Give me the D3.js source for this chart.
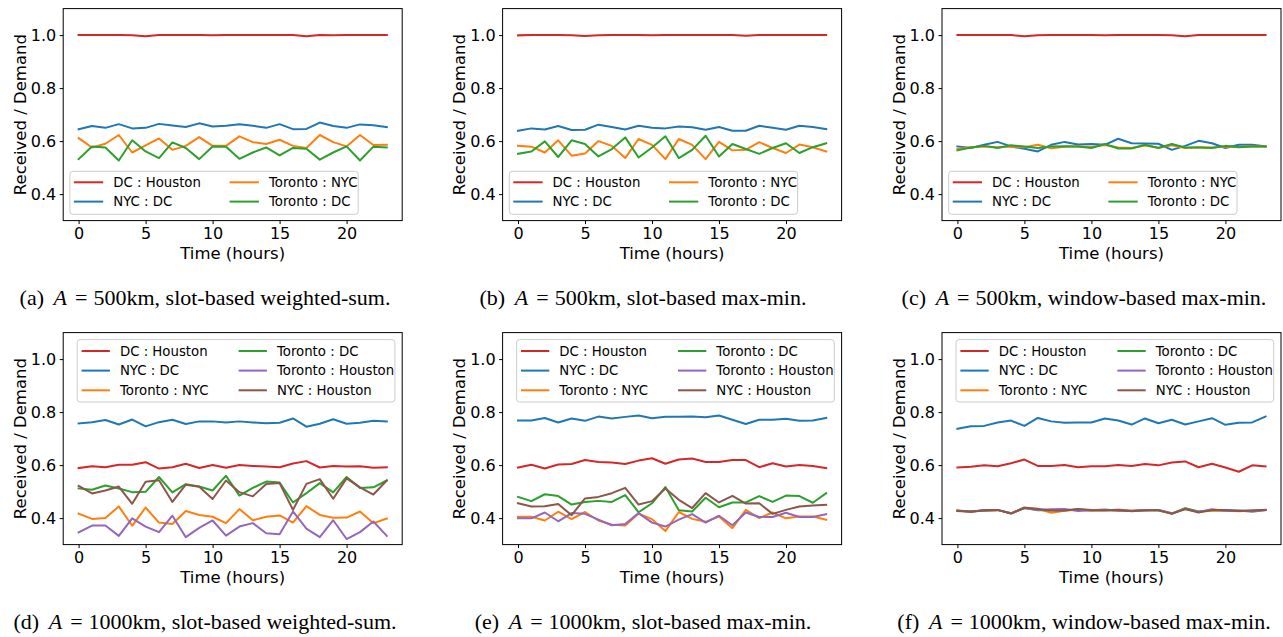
<!DOCTYPE html>
<html><head><meta charset="utf-8">
<script src="https://cdn.jsdelivr.net/npm/d3@7"></script>
<style>body{margin:0;background:#fff}</style>
</head><body>
<svg id="chart" width="1283" height="637"></svg>
<script>
// ---------- data ----------
const hours = [0,1,2,3,4,5,6,7,8,9,10,11,12,13,14,15,16,17,18,19,20,21,22,23];
const xTicks = [0,5,10,15,20];
const yTicks = [0.4,0.6,0.8,1.0];
const seriesNames = ["DC : Houston","NYC : DC","Toronto : NYC","Toronto : DC","Toronto : Houston","NYC : Houston"];
const seriesColors = ["#d62728","#1f77b4","#ff7f0e","#2ca02c","#9467bd","#8c564b"];
const captionLabels = ["(a)","(b)","(c)","(d)","(e)","(f)"];
const captionRadius = ["500km","500km","500km","1000km","1000km","1000km"];
const captionMethods = ["slot-based weighted-sum.","slot-based max-min.","window-based max-min.","slot-based weighted-sum.","slot-based max-min.","window-based max-min."];

// (a) A=500km slot-based weighted-sum
const a_dcHouston = [1,1,1,1,0.999,0.996,1,1,1,1,0.999,1,1,1,1,1,1,0.996,1,0.999,1,1,1,1];
const a_nycDc = [0.645,0.657,0.650,0.664,0.648,0.650,0.665,0.659,0.653,0.667,0.655,0.658,0.664,0.658,0.650,0.664,0.645,0.646,0.670,0.657,0.650,0.663,0.660,0.653];
const a_torNyc = [0.611,0.576,0.590,0.623,0.557,0.584,0.610,0.567,0.582,0.615,0.582,0.582,0.618,0.596,0.589,0.605,0.582,0.574,0.623,0.596,0.580,0.623,0.585,0.586];
const a_torDc = [0.532,0.580,0.576,0.527,0.603,0.561,0.536,0.595,0.574,0.532,0.580,0.579,0.533,0.557,0.576,0.546,0.574,0.571,0.530,0.557,0.580,0.527,0.579,0.576];

// (b) A=500km slot-based max-min
const b_dcHouston = [0.999,1,1,1,0.999,0.997,0.999,1,1,1,0.999,1,1,1,1,1,1,0.998,1,1,1,1,1,1];
const b_nycDc = [0.639,0.648,0.644,0.657,0.642,0.643,0.662,0.653,0.644,0.658,0.650,0.648,0.655,0.652,0.643,0.653,0.639,0.639,0.658,0.650,0.643,0.658,0.653,0.645];
const b_torNyc = [0.582,0.579,0.557,0.603,0.545,0.553,0.600,0.582,0.536,0.608,0.586,0.532,0.608,0.586,0.532,0.597,0.565,0.567,0.596,0.574,0.555,0.587,0.577,0.561];
const b_torDc = [0.552,0.561,0.599,0.540,0.603,0.589,0.542,0.570,0.614,0.538,0.576,0.618,0.536,0.567,0.620,0.542,0.589,0.570,0.552,0.574,0.592,0.555,0.577,0.592];

// (c) A=500km window-based max-min
const c_dcHouston = [1,1,1,1,1,0.996,0.999,1,1,1,1,0.999,1,1,1,1,0.999,0.996,1,1,1,1,1,1];
const c_nycDc = [0.580,0.574,0.586,0.597,0.580,0.571,0.561,0.586,0.597,0.587,0.589,0.586,0.609,0.592,0.591,0.590,0.567,0.582,0.601,0.592,0.574,0.586,0.586,0.580];
const c_torNyc = [0.570,0.577,0.580,0.577,0.580,0.577,0.586,0.573,0.579,0.581,0.578,0.585,0.576,0.574,0.583,0.575,0.584,0.574,0.577,0.576,0.580,0.578,0.581,0.579];
const c_torDc = [0.565,0.576,0.582,0.574,0.584,0.580,0.574,0.580,0.581,0.580,0.574,0.589,0.572,0.572,0.586,0.574,0.589,0.576,0.576,0.574,0.582,0.577,0.580,0.580];

// (d) A=1000km slot-based weighted-sum
const d_dcHouston = [0.589,0.596,0.592,0.601,0.601,0.611,0.587,0.592,0.605,0.589,0.600,0.590,0.600,0.597,0.595,0.592,0.606,0.615,0.591,0.597,0.595,0.596,0.590,0.592];
const d_nycDc = [0.757,0.762,0.770,0.753,0.772,0.746,0.762,0.771,0.755,0.765,0.765,0.761,0.765,0.761,0.758,0.760,0.776,0.745,0.756,0.773,0.756,0.760,0.767,0.765];
const d_torNyc = [0.417,0.397,0.400,0.444,0.371,0.440,0.383,0.378,0.427,0.412,0.405,0.381,0.434,0.392,0.405,0.410,0.383,0.445,0.412,0.401,0.402,0.425,0.381,0.398];
const d_torDc = [0.512,0.507,0.523,0.512,0.498,0.499,0.555,0.497,0.528,0.519,0.504,0.560,0.485,0.514,0.538,0.534,0.459,0.494,0.532,0.497,0.555,0.514,0.516,0.542];
const d_torHouston = [0.346,0.372,0.372,0.333,0.399,0.368,0.347,0.409,0.328,0.363,0.391,0.334,0.368,0.381,0.343,0.339,0.425,0.360,0.328,0.392,0.321,0.347,0.387,0.333];
const d_nycHouston = [0.522,0.493,0.504,0.519,0.454,0.537,0.543,0.461,0.526,0.518,0.472,0.542,0.498,0.482,0.529,0.532,0.431,0.529,0.547,0.473,0.550,0.516,0.489,0.542];

// (e) A=1000km slot-based max-min
const e_dcHouston = [0.591,0.601,0.587,0.602,0.604,0.619,0.612,0.610,0.604,0.617,0.626,0.605,0.621,0.625,0.612,0.612,0.619,0.619,0.592,0.607,0.595,0.600,0.597,0.589];
const e_nycDc = [0.768,0.768,0.778,0.761,0.776,0.767,0.783,0.776,0.782,0.787,0.777,0.782,0.782,0.783,0.781,0.787,0.771,0.755,0.771,0.771,0.775,0.767,0.768,0.778];
const e_torNyc = [0.405,0.405,0.391,0.424,0.396,0.423,0.391,0.375,0.372,0.417,0.396,0.351,0.423,0.397,0.386,0.406,0.362,0.431,0.400,0.421,0.399,0.406,0.406,0.394];
const e_torDc = [0.480,0.464,0.490,0.483,0.451,0.461,0.465,0.461,0.487,0.422,0.456,0.517,0.430,0.425,0.477,0.441,0.459,0.459,0.483,0.461,0.485,0.483,0.458,0.494];
const e_torHouston = [0.399,0.399,0.421,0.388,0.419,0.416,0.394,0.373,0.378,0.419,0.383,0.368,0.394,0.415,0.383,0.409,0.373,0.421,0.404,0.404,0.420,0.404,0.404,0.415];
const e_nycHouston = [0.456,0.444,0.445,0.453,0.411,0.474,0.480,0.494,0.514,0.451,0.464,0.512,0.469,0.438,0.494,0.459,0.484,0.455,0.456,0.416,0.431,0.444,0.448,0.450];

// (f) A=1000km window-based max-min
const f_dcHouston = [0.591,0.594,0.599,0.596,0.607,0.621,0.597,0.597,0.600,0.592,0.596,0.596,0.600,0.597,0.604,0.599,0.610,0.614,0.592,0.605,0.591,0.575,0.599,0.595];
const f_nycDc = [0.737,0.747,0.748,0.761,0.768,0.748,0.778,0.765,0.760,0.761,0.761,0.776,0.768,0.753,0.776,0.758,0.771,0.753,0.765,0.777,0.752,0.760,0.761,0.783];
const f_torNyc = [0.428,0.425,0.428,0.430,0.418,0.438,0.435,0.420,0.428,0.432,0.428,0.429,0.432,0.428,0.429,0.431,0.418,0.436,0.424,0.428,0.428,0.426,0.428,0.430];
const f_torDc = [0.429,0.425,0.429,0.431,0.418,0.438,0.430,0.430,0.430,0.432,0.430,0.431,0.430,0.427,0.431,0.429,0.417,0.437,0.425,0.430,0.430,0.428,0.428,0.430];
const f_torHouston = [0.428,0.424,0.431,0.430,0.418,0.438,0.431,0.433,0.434,0.427,0.430,0.432,0.428,0.428,0.430,0.431,0.418,0.434,0.423,0.433,0.428,0.429,0.424,0.430];
const f_nycHouston = [0.427,0.424,0.430,0.431,0.417,0.440,0.434,0.429,0.429,0.434,0.431,0.430,0.431,0.426,0.430,0.430,0.416,0.434,0.421,0.431,0.431,0.427,0.429,0.431];

const panelSeries = [
  [a_dcHouston,a_nycDc,a_torNyc,a_torDc],
  [b_dcHouston,b_nycDc,b_torNyc,b_torDc],
  [c_dcHouston,c_nycDc,c_torNyc,c_torDc],
  [d_dcHouston,d_nycDc,d_torNyc,d_torDc,d_torHouston,d_nycHouston],
  [e_dcHouston,e_nycDc,e_torNyc,e_torDc,e_torHouston,e_nycHouston],
  [f_dcHouston,f_nycDc,f_torNyc,f_torDc,f_torHouston,f_nycHouston]
];

// ---------- layout ----------
const svg = d3.select("#chart");
const W = 339, H = 212;
const colX = [63.2, 502.6, 942.0];
const rowY = [8.6, 332.6];
const capCX = [205, 643, 1084];
const capBase = [305, 629];

const x = d3.scaleLinear().domain([-1.15, 24.15]).range([0, W]);
const y = d3.scaleLinear().domain([0.3, 1.1]).range([H, 0]);
const line = d3.line().x((d,i)=>x(hours[i])).y(d=>y(d));

panelSeries.forEach((series, p) => {
  const col = p % 3, row = Math.floor(p / 3);
  const g = svg.append("g").attr("transform", `translate(${colX[col]},${rowY[row]})`);

  // lines
  series.forEach((vals, k) => {
    g.append("path").datum(vals)
      .attr("d", line).attr("fill","none")
      .attr("stroke", seriesColors[k]).attr("stroke-width", 2)
      .attr("stroke-linejoin","round").attr("stroke-linecap","square");
  });

  // axes
  const ya = g.append("g").call(d3.axisLeft(y).tickValues(yTicks).tickFormat(d3.format(".1f")).tickSize(3.5).tickPadding(3.5));
  const xa = g.append("g").attr("transform",`translate(0,${H})`)
    .call(d3.axisBottom(x).tickValues(xTicks).tickFormat(d3.format("d")).tickSize(3.5).tickPadding(3.5));
  [ya, xa].forEach(a => {
    a.select(".domain").remove();
    a.selectAll("line").attr("stroke","#000").attr("stroke-width",1);
    a.selectAll("text").attr("fill","#000").style("font-family","DejaVu Sans").style("font-size","16px");
  });

  // frame
  g.append("rect").attr("x",0).attr("y",0).attr("width",W).attr("height",H)
    .attr("fill","none").attr("stroke","#000").attr("stroke-width",1);

  // axis labels
  g.append("text").attr("x", W/2).attr("y", H + 38.5)
    .attr("text-anchor","middle").style("font-family","DejaVu Sans").style("font-size","16.5px")
    .text("Time (hours)");
  g.append("text").attr("transform",`translate(${-37.5},${H/2}) rotate(-90)`)
    .attr("text-anchor","middle").style("font-family","DejaVu Sans").style("font-size","16.5px")
    .text("Received / Demand");

  // legend
  const n = series.length;
  const L = row === 0
    ? {bx:6.7, by:162.7, bw:288.3, bh:43, h1:[4,33.3], t:43.3, c2:155.7, rows:[11, 30.3]}
    : {bx:14, by:7, bw:317.7, bh:62.4, h1:[4.4,32.7], t:42.7, c2:157, rows:[11.4, 31, 50.7]};
  const lg = g.append("g").attr("transform",`translate(${L.bx},${L.by})`);
  lg.append("rect").attr("width",L.bw).attr("height",L.bh).attr("rx",3).attr("ry",3)
    .attr("fill","#fff").attr("fill-opacity",0.8).attr("stroke","#cccccc").attr("stroke-width",1);
  const perCol = n / 2;
  for (let k = 0; k < n; k++) {
    const c = Math.floor(k / perCol), r = k % perCol;
    const ox = c * L.c2, oy = L.rows[r];
    lg.append("line").attr("x1",ox+L.h1[0]).attr("x2",ox+L.h1[1]).attr("y1",oy).attr("y2",oy)
      .attr("stroke",seriesColors[k]).attr("stroke-width",2);
    lg.append("text").attr("x",ox+L.t).attr("y",oy).attr("dy","0.35em")
      .style("font-family","DejaVu Sans").style("font-size","13.3px").text(seriesNames[k]);
  }

  // caption
  const cap = svg.append("text").attr("x", capCX[col]).attr("y", capBase[row])
    .attr("text-anchor","middle").style("font-family","Liberation Serif").style("font-size","22px");
  cap.append("tspan").text(captionLabels[p]);
  cap.append("tspan").attr("dx",9.6).style("font-style","italic").text("A");
  cap.append("tspan").attr("dx",8).text("=");
  cap.append("tspan").attr("dx",6).text(captionRadius[p] + ", " + captionMethods[p]);
});
</script>
</body></html>
